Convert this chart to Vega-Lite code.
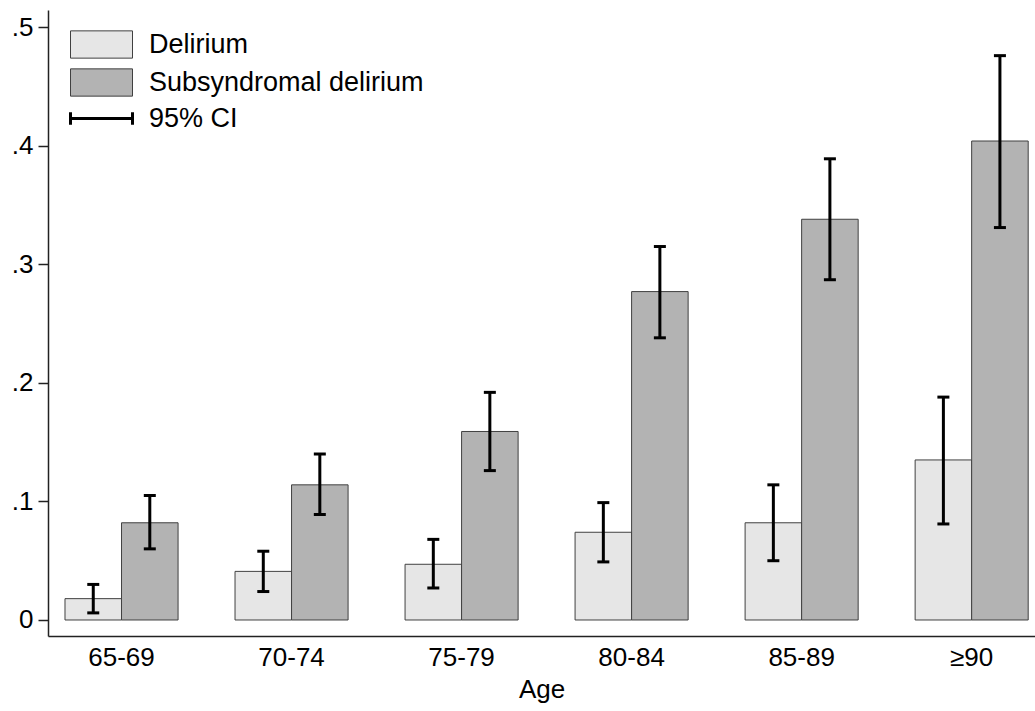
{
  "$schema": "https://vega.github.io/schema/vega-lite/v6.json",
  "width": 987,
  "height": 626,
  "autosize": {"type": "none"},
  "padding": {"left": 48, "top": 10, "right": 0, "bottom": 75},
  "background": "white",
  "config": {
    "view": {"stroke": null},
    "font": "Liberation Sans",
    "axis": {"grid": false, "domainColor": "#222", "tickColor": "#222", "labelColor": "#000", "titleColor": "#000", "labelFont": "Liberation Sans", "titleFont": "Liberation Sans", "titleFontWeight": "normal", "domainWidth": 1.5, "tickWidth": 1.5}
  },
  "data": {
    "values": [
      {"age": "65-69", "group": "Delirium", "value": 0.018, "lo": 0.006, "hi": 0.030},
      {"age": "65-69", "group": "Subsyndromal delirium", "value": 0.082, "lo": 0.060, "hi": 0.105},
      {"age": "70-74", "group": "Delirium", "value": 0.041, "lo": 0.024, "hi": 0.058},
      {"age": "70-74", "group": "Subsyndromal delirium", "value": 0.114, "lo": 0.089, "hi": 0.140},
      {"age": "75-79", "group": "Delirium", "value": 0.047, "lo": 0.027, "hi": 0.068},
      {"age": "75-79", "group": "Subsyndromal delirium", "value": 0.159, "lo": 0.126, "hi": 0.192},
      {"age": "80-84", "group": "Delirium", "value": 0.074, "lo": 0.049, "hi": 0.099},
      {"age": "80-84", "group": "Subsyndromal delirium", "value": 0.277, "lo": 0.238, "hi": 0.315},
      {"age": "85-89", "group": "Delirium", "value": 0.082, "lo": 0.050, "hi": 0.114},
      {"age": "85-89", "group": "Subsyndromal delirium", "value": 0.338, "lo": 0.287, "hi": 0.389},
      {"age": "≥90", "group": "Delirium", "value": 0.135, "lo": 0.081, "hi": 0.188},
      {"age": "≥90", "group": "Subsyndromal delirium", "value": 0.404, "lo": 0.331, "hi": 0.476}
    ]
  },
  "encoding": {
    "x": {
      "field": "age", "type": "nominal",
      "sort": ["65-69", "70-74", "75-79", "80-84", "85-89", "≥90"],
      "scale": {"paddingInner": 0.335, "paddingOuter": 0.07, "align": 0.714},
      "axis": {"title": "Age", "labelAngle": 0, "labelFontSize": 26, "titleFontSize": 26, "ticks": false, "labelPadding": 8, "titlePadding": 6}
    },
    "xOffset": {"field": "group", "type": "nominal", "sort": ["Delirium", "Subsyndromal delirium"], "scale": {"paddingInner": 0, "paddingOuter": 0}}
  },
  "layer": [
    {
      "mark": {"type": "bar", "stroke": "#404040", "strokeWidth": 1},
      "encoding": {
        "y": {
          "field": "value", "type": "quantitative",
          "scale": {"domain": [-0.0135, 0.5145], "nice": false, "zero": false},
          "axis": {"title": null, "values": [0, 0.1, 0.2, 0.3, 0.4, 0.5], "labelExpr": "datum.value == 0 ? '0' : replace(format(datum.value, '.1f'), '0.', '.')", "labelFontSize": 26, "tickSize": 10, "labelPadding": 5}
        },
        "y2": {"datum": 0},
        "fill": {
          "field": "group", "type": "nominal",
          "scale": {"domain": ["Delirium", "Subsyndromal delirium", "95% CI"], "range": ["#e6e6e6", "#b3b3b3", "#000000"]},
          "legend": {
            "title": null, "orient": "none", "legendX": 40, "legendY": 21, "padding": 0,
            "labelFontSize": 27, "labelColor": "#000", "labelOffset": 34, "labelLimit": 0, "rowPadding": 5,
            "symbolType": "M-1,-0.44H1V0.44H-1Z", "symbolSize": 3844, "symbolStrokeColor": "#404040", "symbolStrokeWidth": 1, "symbolOpacity": 1,
            "encode": {
              "symbols": {
                "update": {
                  "shape": {"signal": "datum.value === '95% CI' ? 'M-1,0H1M-1,-0.2V0.2M1,-0.2V0.2' : 'M-1,-0.44H1V0.44H-1Z'"},
                  "fill": {"signal": "datum.value === '95% CI' ? 'transparent' : (datum.value === 'Delirium' ? '#e6e6e6' : '#b3b3b3')"},
                  "stroke": {"signal": "datum.value === '95% CI' ? '#000000' : '#404040'"},
                  "strokeWidth": {"signal": "datum.value === '95% CI' ? 3 : 1"}
                }
              }
            }
          }
        }
      }
    },
    {
      "mark": {"type": "rule", "color": "#000", "strokeWidth": 3},
      "encoding": {
        "y": {"field": "lo", "type": "quantitative"},
        "y2": {"field": "hi"}
      }
    },
    {
      "mark": {"type": "tick", "color": "#000", "size": 12, "thickness": 3, "opacity": 1},
      "encoding": {"y": {"field": "hi", "type": "quantitative"}}
    },
    {
      "mark": {"type": "tick", "color": "#000", "size": 12, "thickness": 3, "opacity": 1},
      "encoding": {"y": {"field": "lo", "type": "quantitative"}}
    }
  ]
}
